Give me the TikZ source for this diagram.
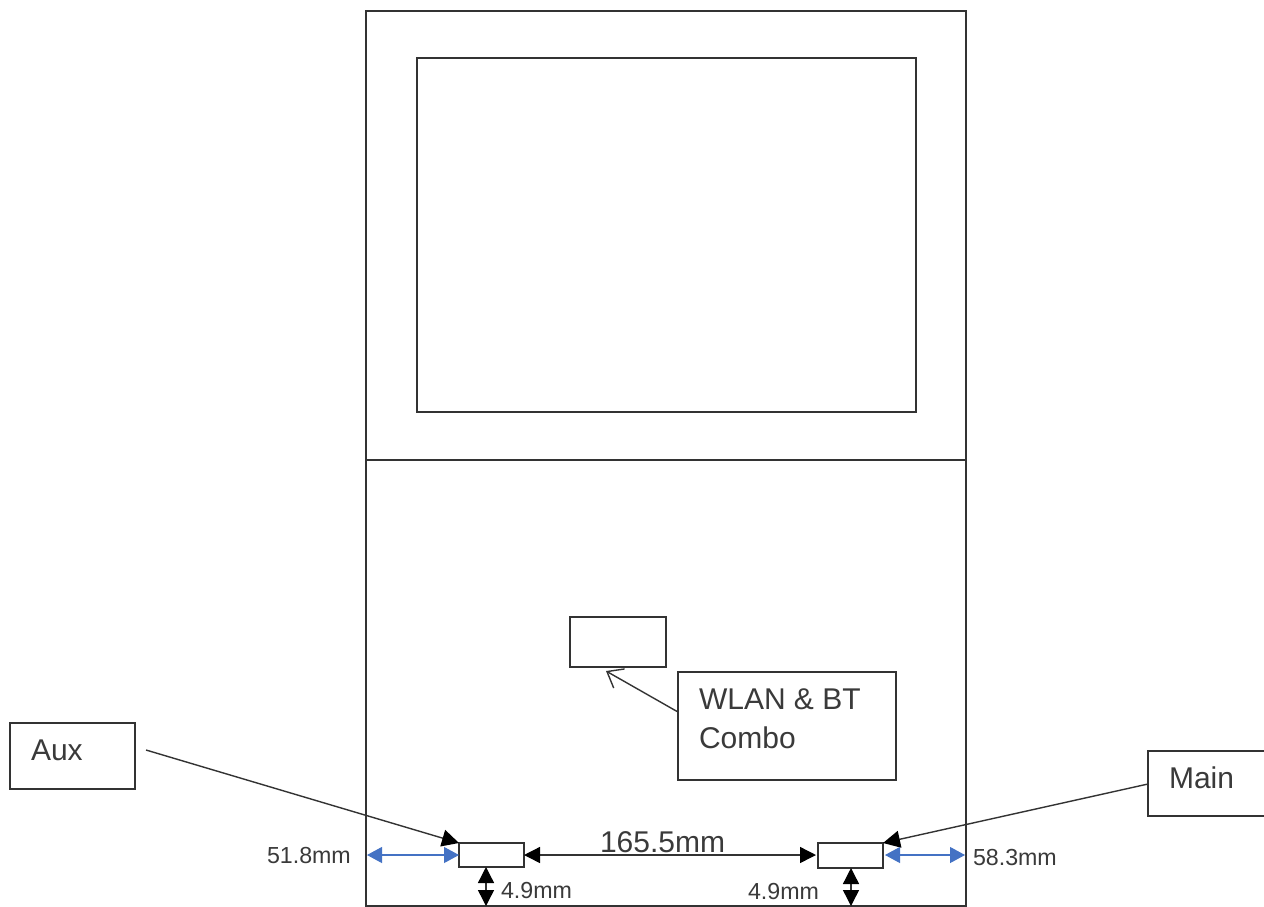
\documentclass[tikz,border=0pt]{standalone}
\usepackage{fontspec}
\setmainfont{Liberation Sans}
\usetikzlibrary{arrows.meta}
\definecolor{ink}{HTML}{333333}
\definecolor{txt}{HTML}{3A3A3A}
\definecolor{dimblue}{HTML}{4472C4}
\tikzset{
  x=1pt,y=-1pt,
  box/.style={draw=ink,line width=1.4pt,fill=none,inner sep=0pt,outer sep=0pt,anchor=north west},
  big/.style={text=txt,font=\fontsize{30}{36}\selectfont,inner sep=0pt,outer sep=0pt},
  small/.style={text=txt,font=\fontsize{23.2}{26}\selectfont,inner sep=0pt,outer sep=0pt},
  leader/.style={draw=ink,line width=1.4pt,-{Triangle[length=17pt,width=17pt,color=black]}},
  dimblack/.style={draw=ink,line width=1.4pt,{Triangle[length=16pt,width=16pt,color=black]}-{Triangle[length=16pt,width=16pt,color=black]}},
  dimb/.style={draw=dimblue,line width=1.1pt,{Triangle[length=15pt,width=16pt]}-{Triangle[length=15pt,width=16pt]}},
}
\begin{document}
\begin{tikzpicture}
\useasboundingbox (0,0) rectangle (1264,906);
\fill[white] (0,0) rectangle (1264,906);
\begin{scope}
\clip (0,0) rectangle (1264,906);
\node[box,minimum width=600pt,minimum height=449pt] (upper) at (366,11) {};
\node[box,minimum width=600pt,minimum height=446pt] (lower) at (366,460) {};
\node[box,minimum width=499pt,minimum height=354pt] (screen) at (417,58) {};
\node[box,minimum width=96pt,minimum height=50pt] (combo) at (570,617) {};
\node[box,minimum width=218pt,minimum height=108pt] (wlan) at (678,672) {};
\node[box,minimum width=125pt,minimum height=66pt] (auxbox) at (10,723) {};
\node[box,minimum width=130pt,minimum height=65pt] (mainbox) at (1148,751) {};
\node[box,minimum width=65pt,minimum height=24pt] (auxant) at (459,843) {};
\node[box,minimum width=65pt,minimum height=25pt] (mainant) at (818,843) {};

\node[big,anchor=west] (wlantxt) at (699,699.5) {WLAN \& BT};
\node[big,anchor=west] (combotxt) at (699,737.5) {Combo};
\node[big,anchor=west] (auxtxt) at (31,750.5) {Aux};
\node[big,anchor=west] (maintxt) at (1169,777.5) {Main};
\node[big,anchor=west] (dist) at (600,842.5) {165.5mm};
\node[small,anchor=west] (lefttxt) at (267,855.5) {51.8mm};
\node[small,anchor=west] (righttxt) at (973,857) {58.3mm};
\node[small,anchor=west] (lowl) at (501,890.5) {4.9mm};
\node[small,anchor=west] (lowr) at (748,891.5) {4.9mm};

\coordinate (auxstart) at (146,750);
\coordinate (lefte) at (367,855);
\coordinate (righte) at (965,855);
\coordinate (auxbot) at (486,867);
\coordinate (mainbot) at (851,868);
\coordinate (edgeA) at (486,906);
\coordinate (edgeB) at (851,906);
\coordinate (wlanout) at (678,712);
\coordinate (comboin) at (606,671);
\coordinate (mainstart) at (1148,784);
\coordinate (mainarr) at (816,855);
\coordinate (mainblue) at (885,855);

\draw[leader] (auxstart) -- (auxant.north west);
\draw[leader] (mainstart) -- (mainant.north east);
\draw[draw=ink,line width=1.4pt,-{Straight Barb[length=14pt,width=22pt,line width=1.4pt]}] (wlanout) -- (comboin);
\draw[dimblack] (auxant.east) -- (mainarr);
\draw[dimb] (lefte) -- (auxant.west);
\draw[dimb] (mainblue) -- (righte);
\draw[dimblack] (auxbot) -- (edgeA);
\draw[dimblack] (mainbot) -- (edgeB);
\end{scope}
\end{tikzpicture}
\end{document}
